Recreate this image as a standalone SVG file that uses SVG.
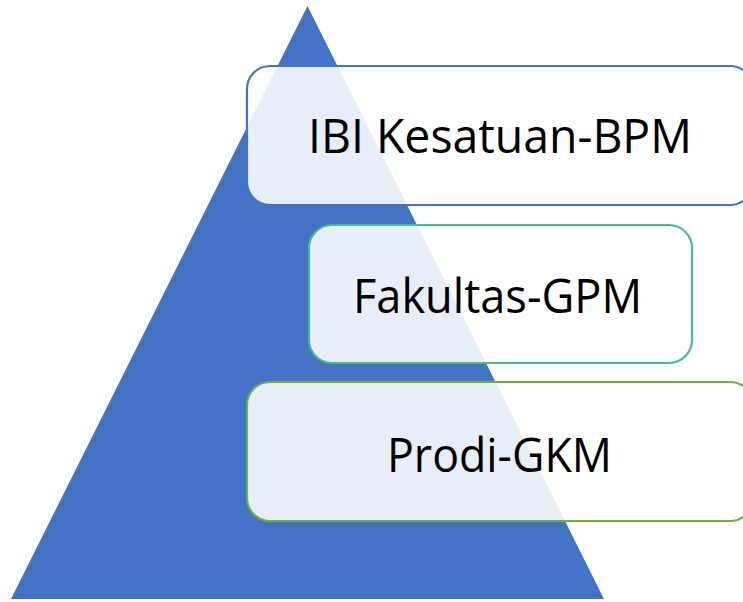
<svg xmlns="http://www.w3.org/2000/svg" width="743" height="602" viewBox="0 0 743 602">
  <style>
    .box { fill: #ffffff; fill-opacity: 0.88; stroke-width: 2.2; }
    .lbl { font-family: "Open Sans", "Noto Sans", "Liberation Sans", sans-serif; font-size: 47px; fill: #000000; text-anchor: middle; }
  </style>
  <g id="pyramid">
    <polygon points="307.5,6 604,599 11,599" fill="#4472C4"/>
  </g>
  <g id="connectors"></g>
  <g id="node-bpm">
    <rect class="box" x="247" y="66" width="506" height="139" rx="23" ry="23" stroke="#4472C4"/>
    <text class="lbl" x="500" y="153" textLength="384" lengthAdjust="spacingAndGlyphs">IBI Kesatuan-BPM</text>
  </g>
  <g id="node-gpm">
    <rect class="box" x="309" y="225" width="383" height="138" rx="23" ry="23" stroke="#4BB98B"/>
    <text class="lbl" x="497.5" y="313" textLength="289" lengthAdjust="spacingAndGlyphs">Fakultas-GPM</text>
  </g>
  <g id="node-gkm">
    <rect class="box" x="247" y="382" width="506" height="139" rx="23" ry="23" stroke="#70AD47"/>
    <text class="lbl" x="499.5" y="472" textLength="225" lengthAdjust="spacingAndGlyphs">Prodi-GKM</text>
  </g>
</svg>
